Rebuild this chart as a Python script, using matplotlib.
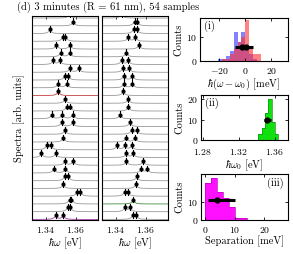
import matplotlib.pyplot as plt
import numpy as np

plt.rcParams['font.family'] = 'serif'
plt.rcParams['font.serif'] = ['cmr10']
plt.rcParams['mathtext.fontset'] = 'cm'
plt.rcParams['axes.formatter.use_mathtext'] = True
plt.rcParams['axes.linewidth'] = 0.8

# peak energies (eV) of each spectrum, top to bottom, left column
peaks_a = [[1.356], [1.3585], [1.3429], [1.3518, 1.3533], [1.3473, 1.3562],
           [1.350, 1.356], [1.3451, 1.3495], [1.3562, 1.3622], [1.3533, 1.3547],
           [1.3485, 1.354], [1.3485], [1.3529], [1.3542, 1.3562],
           [1.344, 1.3513, 1.358], [1.3507, 1.358], [1.3529], [1.3518],
           [1.3407, 1.3435], [1.3373, 1.3467], [1.3529, 1.3585], [1.3455, 1.3533],
           [1.3529, 1.3551], [1.3518], [1.3613, 1.3631], [1.3562, 1.3573],
           [1.3551, 1.3562], [1.3467, 1.3518]]
# right column
peaks_b = [[1.344], [1.3529, 1.354], [1.3522, 1.354], [1.3485, 1.3533], [1.3555],
           [1.3473], [1.344, 1.3485], [1.3451, 1.3491], [1.3455, 1.3513],
           [1.3455, 1.3513], [1.3451], [1.3485], [1.3485], [1.3429], [1.3495],
           [1.3507, 1.354], [1.3469, 1.3529], [1.3409, 1.3462, 1.3507],
           [1.3473, 1.3518], [1.3473, 1.3585], [1.3573, 1.3611], [1.354],
           [1.3535], [1.3462, 1.348], [1.3518], [1.3462, 1.3495], [1.3518, 1.3535]]
# rows drawn in colour
colour_a = {10: '#c04040', 26: '#a040a0'}
colour_b = {24: '#409040'}

# (i) deviation histogram
dev_edges = [-24, -21, -18, -15, -12, -9, -6, -3, 0, 3, 6, 9, 12, 15]
dev_blue = [0, 1, 1, 2, 4, 12, 8, 12, 5, 3, 1, 0, 0]
dev_red = [0, 0, 1, 1, 3, 5, 8, 10, 17, 6, 3, 3, 0]
dev_mean = [-2.5, 0.5]
dev_err = [5.5, 5.5]
dev_y = 6

# (ii) central energy histogram
w0_edges = [1.342, 1.3457, 1.3494, 1.3531, 1.3568, 1.3605, 1.3642]
w0_counts = [3, 6, 13, 20, 9, 3]
w0_mean, w0_err, w0_y = 1.352, 0.004, 10

# (iii) separation histogram
sep_edges = [0, 2, 4, 6, 8, 10, 12, 14]
sep_counts = [20, 23, 15, 12, 7, 1, 1]
sep_mean, sep_lo, sep_hi, sep_y = 3.8, 2.8, 6.2, 11

W, H = 293, 254
fig = plt.figure(figsize=(W / 100, H / 100), dpi=100)

def box(x0, y0, x1, y1):
    return [x0 / W, 1 - y1 / H, (x1 - x0) / W, (y1 - y0) / H]

def style(ax):
    ax.tick_params(direction='in', top=True, right=True, length=2, width=0.6,
                   labelsize=7, pad=2)
    ax.tick_params(axis='x', pad=3.5)

fig.text(17 / W, 1 - 7 / H, '(d) 3 minutes (R = 61 nm), 54 samples',
         ha='left', va='center', fontsize=7.6)

E = np.linspace(1.328, 1.378, 600)
gam = 0.0014
amp = 0.35
ax1 = fig.add_axes(box(32, 16, 98, 220))
ax2 = fig.add_axes(box(102, 16, 168, 220))
for ax, rows, cols in [(ax1, peaks_a, colour_a), (ax2, peaks_b, colour_b)]:
    n = len(rows)
    for i, pk in enumerate(rows):
        off = n - 1 - i
        y = off + sum(amp / (1 + ((E - p) / gam) ** 2) for p in pk)
        ax.plot(E, y, color=cols.get(i, '0.6'), lw=0.6)
        for p in pk:
            ax.plot([p, p], [off + 0.2, off + 0.95], color='k', lw=0.8)
            ax.plot(p, off + 0.55, 'o', color='k', ms=3.0, mew=0)
    ax.set_xlim(1.331, 1.375)
    ax.set_ylim(-0.07, n - 1 + 0.27)
    ax.set_yticks([])
    ax.set_xticks([1.34, 1.36])
    ax.set_xlabel(r'$\hbar\omega$ [eV]', fontsize=7.5, labelpad=0.5)
    style(ax)
    ax.tick_params(left=False, right=False)
ax1.set_ylabel('Spectra [arb. units]', fontsize=7.5, labelpad=5)

# (i)
axa = fig.add_axes(box(200, 18, 288, 61))
axa.stairs(dev_blue, dev_edges, fill=True, color='#3030ff', alpha=0.6)
axa.stairs(dev_red, dev_edges, fill=True, color='#ff3030', alpha=0.6)
axa.errorbar(dev_mean, [dev_y, dev_y], xerr=dev_err, fmt='o', color='k',
             ms=3.5, elinewidth=2.2, capsize=0)
axa.set_xlim(-35, 33)
axa.set_ylim(0, 18)
axa.set_xticks([-20, 0, 20])
axa.set_yticks([0, 10])
axa.set_xlabel(r'$\hbar(\omega-\omega_0)$ [meV]', fontsize=7.5, labelpad=0.5)
axa.set_ylabel('Counts', fontsize=7.5, labelpad=2)
axa.text(0.05, 0.93, '(i)', transform=axa.transAxes, ha='left', va='top', fontsize=7.5)
style(axa)

# (ii)
axb = fig.add_axes(box(201, 95, 288, 140))
axb.stairs(w0_counts, w0_edges, fill=True, color='#10e010')
axb.stairs(w0_counts, w0_edges, color='#109010', lw=0.5, baseline=0)
axb.errorbar([w0_mean], [w0_y], xerr=w0_err, fmt='o', color='k',
             ms=3.5, elinewidth=2.2, capsize=0)
axb.set_xlim(1.278, 1.375)
axb.set_ylim(0, 22)
axb.set_xticks([1.28, 1.32, 1.36])
axb.set_yticks([0, 10, 20])
axb.set_xlabel(r'$\hbar\omega_0$ [eV]', fontsize=7.5, labelpad=0.5)
axb.set_ylabel('Counts', fontsize=7.5, labelpad=2)
axb.text(0.05, 0.93, '(ii)', transform=axb.transAxes, ha='left', va='top', fontsize=7.5)
style(axb)
axb.tick_params(axis='x', pad=5)

# (iii)
axc = fig.add_axes(box(201, 174, 288, 220))
axc.stairs(sep_counts, sep_edges, fill=True, color='#ff10ff')
axc.stairs(sep_counts, sep_edges, color='#c000c0', lw=0.5, baseline=0)
axc.errorbar([sep_mean], [sep_y], xerr=[[sep_lo], [sep_hi]], fmt='o', color='k',
             ms=3.5, elinewidth=2.2, capsize=0)
axc.set_xlim(-1.5, 28)
axc.set_ylim(0, 25)
axc.set_xticks([0, 10, 20])
axc.set_yticks([0, 10])
axc.set_xlabel('Separation [meV]', fontsize=7.5, labelpad=0.5)
axc.set_ylabel('Counts', fontsize=7.5, labelpad=2)
axc.text(0.95, 0.93, '(iii)', transform=axc.transAxes, ha='right', va='top', fontsize=7.5)
style(axc)

fig.savefig('out.png', dpi=100)
